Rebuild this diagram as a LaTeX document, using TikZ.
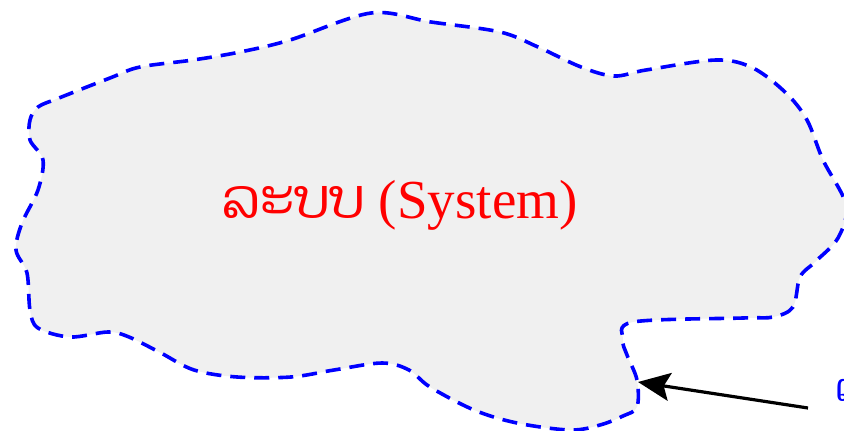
\documentclass[tikz,border=0pt]{standalone}
\usepackage{fontspec}
\setmainfont{Liberation Serif}
\newfontfamily\laofont[Script=Lao]{Dhyana}
\usetikzlibrary{arrows.meta}
\definecolor{areagray}{RGB}{240,240,240}
\tikzset{
  >=Stealth,
  sysarea/.style={draw=blue,fill=areagray,line width=3.6pt,
                  dash pattern=on 15pt off 9pt},
  systxt/.style={text=red,font=\fontsize{55}{60}\selectfont},
  bndtxt/.style={text=blue,anchor=west,font=\fontsize{38}{40}\selectfont\laofont},
  arr/.style={-{Stealth[length=32pt,width=28pt,inset=6pt]},line width=3.2pt},
}
\begin{document}
\begin{tikzpicture}[x=1pt,y=-1pt]
    \useasboundingbox (0,0) rectangle (844,431);
    \clip (0,0) rectangle (844,431);

    % system area
    \draw[sysarea] plot[smooth cycle,tension=0.55] coordinates {
      (371,13) (431,22) (500,32) (538,47) (581,67) (614,76) (646,70)
      (716,60) (753,68) (786,93) (807,120) (823,160) (846,205)
      (838,238) (815,262) (800,277) (793,307) (773,317) (743,318)
      (633,322) (623,340) (627,355) (637,380) (637,407) (623,416)
      (600,425) (570,430) (517,423) (474,410) (430,387) (409,370)
      (382,363) (334,370) (291,377) (237,377) (194,370) (161,353)
      (129,337) (108,332) (70,337) (38,328) (30,310) (27,273)
      (16,250) (22,223) (38,190) (43,160) (30,140) (30,120)
      (38,107) (59,98) (110,78) (140,67) (193,60) (240,52)
      (290,40)};

    \node[systxt] (sys) at (400,205) {{\laofont ລະບບ} (System)};

    % boundary label
    \node[bndtxt] (bnd) at (832,390) {ເ};
    \coordinate (tail) at (808,408);
    \coordinate (head) at (638,382);
    \draw[arr] (tail) -- (head);
\end{tikzpicture}
\end{document}
